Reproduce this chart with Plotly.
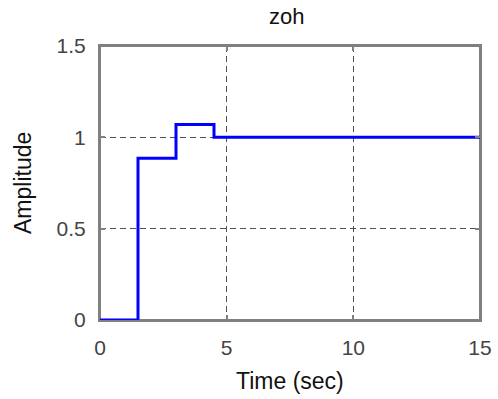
import plotly.graph_objects as go

# Zero-order-hold step response, sampled every 1.5 s
sample_times = [0, 1.5, 3, 4.5, 6, 7.5, 9, 10.5, 12, 13.5, 15]
amplitude = [0, 0.885, 1.07, 1.0, 1.0, 1.0, 1.0, 1.0, 1.0, 1.0, 1.0]

x_ticks = [0, 5, 10, 15]
y_ticks = [0, 0.5, 1, 1.5]
y_tick_text = ["0", "0.5", "1", "1.5"]

FONT = "Liberation Sans, Arial, sans-serif"
AXIS_GRAY = "#808080"
TICK_COLOR = "#444444"

fig = go.Figure()
fig.add_trace(go.Scatter(
    x=sample_times,
    y=amplitude,
    mode="lines",
    line=dict(color="#0000ff", width=3, shape="hv"),
    showlegend=False,
    hoverinfo="x+y",
    cliponaxis=False,
))

axis_common = dict(
    showline=True,
    linecolor=AXIS_GRAY,
    linewidth=2,
    mirror="ticks",
    ticks="inside",
    ticklen=5,
    tickwidth=1.5,
    tickcolor=AXIS_GRAY,
    showgrid=True,
    gridcolor="#505050",
    griddash="6px,4px",
    gridwidth=1.2,
    zeroline=False,
    automargin=False,
    tickfont=dict(family=FONT, size=21, color=TICK_COLOR),
    fixedrange=True,
)

fig.update_xaxes(range=[0, 15], tickvals=x_ticks, ticklabelstandoff=8, **axis_common)
fig.update_yaxes(range=[0, 1.5], tickvals=y_ticks, ticktext=y_tick_text,
                 ticklabelstandoff=8, **axis_common)

fig.update_layout(
    width=498,
    height=399,
    margin=dict(l=100, r=18, t=46, b=79, pad=0, autoexpand=False),
    plot_bgcolor="white",
    paper_bgcolor="white",
    # closed axes box, kept beneath the response curve
    shapes=[dict(type="rect", xref="paper", yref="paper", x0=0, x1=1, y0=0, y1=1,
                 line=dict(color=AXIS_GRAY, width=2), layer="below")],
    annotations=[
        dict(text="zoh", xref="paper", yref="paper", x=0.49, y=1.106,
             showarrow=False, xanchor="center", yanchor="middle",
             font=dict(family=FONT, size=22, color="#111111")),
        dict(text="Time (sec)", xref="paper", yref="paper", x=0.5, y=-0.2226,
             showarrow=False, xanchor="center", yanchor="middle",
             font=dict(family=FONT, size=23, color="#111111")),
        dict(text="Amplitude", xref="paper", yref="paper", x=-0.2026, y=0.5,
             showarrow=False, xanchor="center", yanchor="middle", textangle=-90,
             font=dict(family=FONT, size=23, color="#111111")),
    ],
)

fig.write_html("out.html")
